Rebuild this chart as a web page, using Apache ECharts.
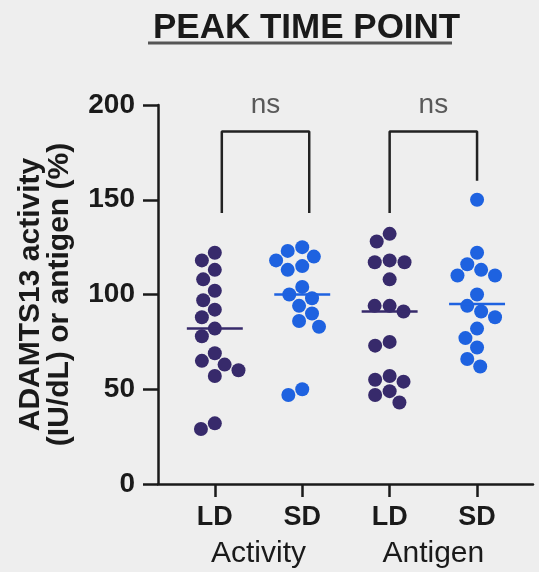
<!DOCTYPE html>
<html>
<head>
<meta charset="utf-8">
<script src="https://cdn.jsdelivr.net/npm/echarts@6/dist/echarts.min.js"></script>
<style>
html, body { margin: 0; padding: 0; background: #eeeeee; }
#chart { width: 539px; height: 572px; }
</style>
</head>
<body>
<div id="chart"></div>
<script>
// values
const groupNames = ['Activity', 'Antigen'];
const doseLabels = ['LD', 'SD', 'LD', 'SD'];
const ldActivity = [122, 118, 113, 108, 102, 97, 92, 88, 82, 78, 69, 63, 65, 60, 57, 29, 32];
const sdActivity = [123, 118, 120, 125, 113, 115, 104, 100, 98, 94, 90, 86, 83, 47, 50];
const ldAntigen = [128, 132, 117, 117, 118, 108, 91, 94, 94, 73, 75, 54, 55, 57, 47, 49, 43];
const sdAntigen = [150, 122, 110, 110, 113, 116, 100, 94, 91, 88, 82, 77, 72, 66, 62];
const groupMeans = [82, 100, 91, 95];
const bracketPairs = [[1, 2], [3, 4]];
const bracketTop = [186, 186];
const bracketFeet = [[143, 143], [143, 160]];
const bracketLabels = ['ns', 'ns'];

const groups = [ldActivity, sdActivity, ldAntigen, sdAntigen];
const colors = ['#372a6b', '#1e62e0', '#372a6b', '#1e62e0'];
const bracketShift = [0.08, 0];
const font = "'Liberation Sans', Arial, sans-serif";
const ink = '#1a1a1a';

const chart = echarts.init(document.getElementById('chart'));

const series = [];

groups.forEach((vals, g) => {
    series.push({
        id: 'dots' + g,
        type: 'scatter',
        symbolSize: 14,
        itemStyle: { color: colors[g], opacity: 1 },
        data: [],
        z: 3,
    });
    series.push({
        type: 'line',
        symbol: 'none',
        lineStyle: { color: colors[g], width: 2.5 },
        data: [[g + 1 - 0.32, groupMeans[g]], [g + 1 + 0.32, groupMeans[g]]],
        z: 4,
    });
});

bracketPairs.forEach(([a, b], i) => {
    const s = bracketShift[i];
    series.push({
        type: 'line',
        symbol: 'none',
        lineStyle: { color: '#222', width: 2.5 },
        data: [
            [a + s, bracketFeet[i][0]],
            [a + s, bracketTop[i]],
            [b + s, bracketTop[i]],
            [b + s, bracketFeet[i][1]],
        ],
        z: 2,
    });
    series.push({
        type: 'scatter',
        symbolSize: 0,
        clip: false,
        silent: true,
        label: {
            show: true,
            position: 'inside',
            formatter: bracketLabels[i],
            fontFamily: font,
            fontSize: 28,
            color: '#333',
        },
        data: [[(a + b) / 2 + s, 200]],
    });
});

const option = {
    backgroundColor: '#eeeeee',
    animation: false,
    title: {
        text: 'PEAK TIME POINT',
        left: 148,
        top: 6,
        textStyle: { fontFamily: font, fontSize: 35, fontWeight: 'bold', color: ink },
    },
    graphic: [{
        type: 'line',
        shape: { x1: 148, y1: 43, x2: 452, y2: 43 },
        style: { stroke: '#555', lineWidth: 3 },
    }],
    grid: { left: 158, right: 6, top: 105, bottom: 88, outerBoundsMode: 'none' },
    xAxis: [{
        type: 'value',
        position: 'bottom',
        min: 0.35,
        max: 4.64,
        splitLine: { show: false },
        axisLine: { lineStyle: { color: ink, width: 2.5 } },
        axisTick: { customValues: [1, 2, 3, 4], length: 13, lineStyle: { color: ink, width: 2.5 } },
        axisLabel: {
            customValues: [1, 2, 3, 4],
            formatter: v => doseLabels[Math.round(v) - 1],
            margin: 20,
            fontFamily: font,
            fontSize: 27,
            fontWeight: 'bold',
            color: ink,
        },
    }, {
        type: 'value',
        position: 'bottom',
        min: 0.35,
        max: 4.64,
        splitLine: { show: false },
        axisLine: { show: false },
        axisTick: { show: false },
        axisLabel: {
            customValues: [1.5, 3.5],
            formatter: v => groupNames[Math.round((v - 1.5) / 2)],
            margin: 55,
            fontFamily: font,
            fontSize: 30,
            color: ink,
        },
    }],
    yAxis: {
        type: 'value',
        min: 0,
        max: 200,
        interval: 50,
        splitLine: { show: false },
        axisLine: { show: true, lineStyle: { color: ink, width: 2.5 } },
        axisTick: { show: true, length: 15, lineStyle: { color: ink, width: 2.5 } },
        axisLabel: {
            margin: 23,
            fontFamily: font,
            fontSize: 28,
            fontWeight: 'bold',
            color: ink,
        },
        name: 'ADAMTS13 activity\n(IU/dL) or antigen (%)',
        nameLocation: 'middle',
        nameRotate: 90,
        nameGap: 84,
        nameTextStyle: {
            fontFamily: font,
            fontSize: 30,
            fontWeight: 'bold',
            lineHeight: 29,
            color: ink,
        },
    },
    series: series,
};

chart.setOption(option);

// simple beeswarm: spread the dots sideways so they do not overlap
function swarm(values, toY, d) {
    const order = values.map((v, i) => i).sort((a, b) => values[b] - values[a]);
    const placed = [];
    const offsets = new Array(values.length);
    order.forEach(i => {
        const y = toY(values[i]);
        const cands = [0];
        placed.forEach(p => {
            const dy = Math.abs(p.y - y);
            if (dy < d) {
                const dx = Math.sqrt(d * d - dy * dy);
                cands.push(p.x - dx, p.x + dx);
            }
        });
        let best = null;
        cands.forEach(c => {
            const ok = placed.every(p => Math.hypot(p.x - c, p.y - y) >= d - 0.01);
            if (ok && (best === null || Math.abs(c) < Math.abs(best) - 0.01)) best = c;
        });
        placed.push({ x: best, y: y });
        offsets[i] = best;
    });
    return offsets;
}

const pxPerUnit = chart.convertToPixel({ xAxisIndex: 0 }, 2) - chart.convertToPixel({ xAxisIndex: 0 }, 1);
const toY = v => chart.convertToPixel({ yAxisIndex: 0 }, v);

chart.setOption({
    series: groups.map((vals, g) => {
        const offs = swarm(vals, toY, 15);
        return {
            id: 'dots' + g,
            data: vals.map((v, i) => [g + 1 + offs[i] / pxPerUnit, v]),
        };
    }),
});
</script>
</body>
</html>
